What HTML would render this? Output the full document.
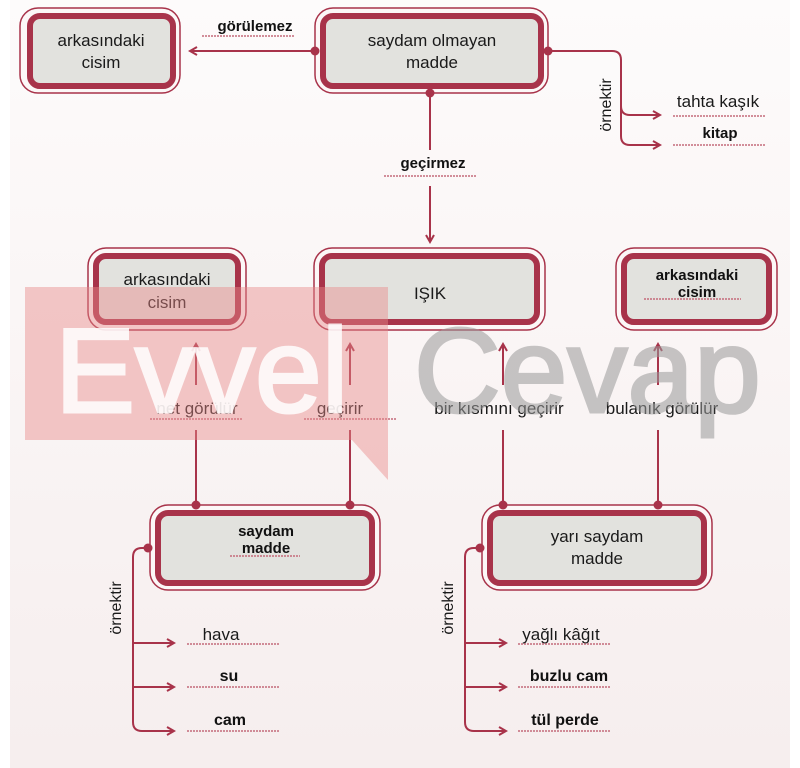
<!DOCTYPE html>
<html><head><meta charset="utf-8"><style>
html,body{margin:0;padding:0;background:#fff}
svg{display:block}
text{font-family:"Liberation Sans",Arial,sans-serif;fill:#1a1a1a}
.b{font-weight:bold;fill:#111}
</style></head><body>
<svg width="800" height="768" viewBox="0 0 800 768" xmlns="http://www.w3.org/2000/svg">
<defs>
<linearGradient id="bg" x1="0" y1="0" x2="0" y2="1">
<stop offset="0" stop-color="#fdfbfb"/><stop offset="1" stop-color="#f6eeee"/></linearGradient>
<marker id="ah" markerWidth="10" markerHeight="10" refX="8" refY="5" orient="auto" markerUnits="userSpaceOnUse">
<path d="M1,1 L8,5 L1,9" fill="none" stroke="#a8334a" stroke-width="2"/></marker>
</defs>
<rect x="10" y="0" width="780" height="768" fill="url(#bg)"/>
<g fill="none" stroke="#a8334a" stroke-width="2">
<line x1="315" y1="51" x2="190" y2="51" marker-end="url(#ah)"/>
<line x1="430" y1="93" x2="430" y2="150"/>
<line x1="430" y1="186" x2="430" y2="242" marker-end="url(#ah)"/>
<path d="M548,51 H612 Q621,51 621,60 V106 Q621,115 630,115 H660" marker-end="url(#ah)"/>
<path d="M621,106 V136 Q621,145 630,145 H660" marker-end="url(#ah)"/>
<line x1="196" y1="503" x2="196" y2="430"/><line x1="196" y1="385" x2="196" y2="344" marker-end="url(#ah)"/>
<line x1="350" y1="503" x2="350" y2="430"/><line x1="350" y1="385" x2="350" y2="344" marker-end="url(#ah)"/>
<line x1="503" y1="503" x2="503" y2="430"/><line x1="503" y1="385" x2="503" y2="344" marker-end="url(#ah)"/>
<line x1="658" y1="503" x2="658" y2="430"/><line x1="658" y1="385" x2="658" y2="344" marker-end="url(#ah)"/>
<path d="M148,548 H142 Q133,548 133,557 V722 Q133,731 142,731 H174" marker-end="url(#ah)"/>
<path d="M133,643 H174" marker-end="url(#ah)"/>
<path d="M133,687 H174" marker-end="url(#ah)"/>
<path d="M480,548 H474 Q465,548 465,557 V722 Q465,731 474,731 H506" marker-end="url(#ah)"/>
<path d="M465,643 H506" marker-end="url(#ah)"/>
<path d="M465,687 H506" marker-end="url(#ah)"/>
</g>
<g stroke="#a8334a">
<rect x="20" y="8" width="160" height="85" rx="18" fill="#fcf7f7" stroke-width="1.5"/>
<rect x="30" y="16" width="143" height="70" rx="10" fill="#e2e2de" stroke-width="6"/>
<rect x="315" y="8" width="233" height="85" rx="18" fill="#fcf7f7" stroke-width="1.5"/>
<rect x="323" y="16" width="218" height="70" rx="10" fill="#e2e2de" stroke-width="6"/>
<rect x="88" y="248" width="158" height="82" rx="18" fill="#fcf7f7" stroke-width="1.5"/>
<rect x="96" y="256" width="142" height="66" rx="10" fill="#e2e2de" stroke-width="6"/>
<rect x="314" y="248" width="231" height="82" rx="18" fill="#fcf7f7" stroke-width="1.5"/>
<rect x="322" y="256" width="215" height="66" rx="10" fill="#e2e2de" stroke-width="6"/>
<rect x="616" y="248" width="161" height="82" rx="18" fill="#fcf7f7" stroke-width="1.5"/>
<rect x="624" y="256" width="145" height="66" rx="10" fill="#e2e2de" stroke-width="6"/>
<rect x="150" y="505" width="230" height="85" rx="18" fill="#fcf7f7" stroke-width="1.5"/>
<rect x="158" y="513" width="214" height="70" rx="10" fill="#e2e2de" stroke-width="6"/>
<rect x="482" y="505" width="230" height="85" rx="18" fill="#fcf7f7" stroke-width="1.5"/>
<rect x="490" y="513" width="214" height="70" rx="10" fill="#e2e2de" stroke-width="6"/>
</g>
<g fill="#a8334a">
<circle cx="315" cy="51" r="4.5"/><circle cx="430" cy="93" r="4.5"/><circle cx="548" cy="51" r="4.5"/>
<circle cx="196" cy="505" r="4.5"/><circle cx="350" cy="505" r="4.5"/><circle cx="503" cy="505" r="4.5"/><circle cx="658" cy="505" r="4.5"/>
<circle cx="148" cy="548" r="4.5"/><circle cx="480" cy="548" r="4.5"/>
</g>
<g font-size="17" text-anchor="middle">
<text x="101" y="46">arkasındaki</text><text x="101" y="68">cisim</text>
<text x="432" y="46">saydam olmayan</text><text x="432" y="68">madde</text>
<text x="167" y="285">arkasındaki</text><text x="167" y="308">cisim</text>
<text x="430" y="299">IŞIK</text>
<text x="697" y="280" class="b" font-size="15">arkasındaki</text><text x="697" y="297" class="b" font-size="15">cisim</text>
<text x="266" y="536" class="b" font-size="15">saydam</text><text x="266" y="553" class="b" font-size="15">madde</text>
<text x="597" y="542">yarı saydam</text><text x="597" y="564">madde</text>
<text x="255" y="31" class="b" font-size="15">görülemez</text>
<text x="433" y="168" class="b" font-size="15">geçirmez</text>
<text x="197" y="414">net görülür</text>
<text x="340" y="414">geçirir</text>
<text x="499" y="414">bir kısmını geçirir</text>
<text x="662" y="414">bulanık görülür</text>
<text x="718" y="107">tahta kaşık</text>
<text x="720" y="138" class="b" font-size="15">kitap</text>
<text x="221" y="640">hava</text>
<text x="229" y="681" class="b" font-size="16">su</text>
<text x="230" y="725" class="b" font-size="16">cam</text>
<text x="561" y="640">yağlı kâğıt</text>
<text x="569" y="681" class="b" font-size="16">buzlu cam</text>
<text x="565" y="725" class="b" font-size="16">tül perde</text>
<text transform="translate(611,105) rotate(-90)" font-size="16">örnektir</text>
<text transform="translate(121,608) rotate(-90)" font-size="16">örnektir</text>
<text transform="translate(453,608) rotate(-90)" font-size="16">örnektir</text>
</g>
<g stroke="#c46a7a" stroke-width="1.5" stroke-dasharray="2,1">
<line x1="202" y1="36" x2="295" y2="36"/>
<line x1="384" y1="176" x2="477" y2="176"/>
<line x1="644" y1="299" x2="741" y2="299"/>
<line x1="230" y1="556" x2="300" y2="556"/>
<line x1="150" y1="419" x2="242" y2="419"/>
<line x1="304" y1="419" x2="396" y2="419"/>
<line x1="673" y1="116" x2="765" y2="116"/>
<line x1="673" y1="145" x2="765" y2="145"/>
<line x1="187" y1="644" x2="279" y2="644"/>
<line x1="187" y1="687" x2="279" y2="687"/>
<line x1="187" y1="731" x2="279" y2="731"/>
<line x1="518" y1="644" x2="611" y2="644"/>
<line x1="518" y1="687" x2="611" y2="687"/>
<line x1="518" y1="731" x2="611" y2="731"/>
</g>
<path d="M25,287 H388 V480 L352,440 H25 Z" fill="#e88a8a" fill-opacity="0.45"/>
<g opacity="0.85"><text x="55" y="412" font-size="120" style="fill:#ffffff;stroke:#ffffff;stroke-width:3">Evvel</text></g>
<g opacity="0.55"><text x="414" y="412" font-size="120" style="fill:#9a9a9a;stroke:#9a9a9a;stroke-width:3">Cevap</text></g>
</svg>
</body></html>
